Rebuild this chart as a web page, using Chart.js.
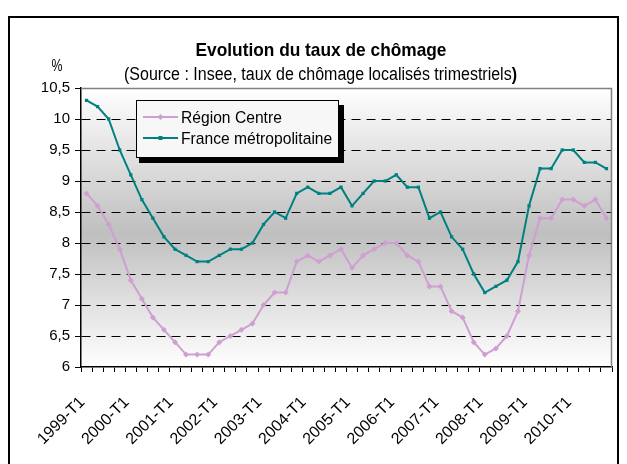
<!DOCTYPE html>
<html><head><meta charset="utf-8">
<script src="https://cdn.jsdelivr.net/npm/chart.js@4/dist/chart.umd.min.js"></script>
<style>html,body{margin:0;padding:0;background:#fff}canvas{display:block}</style>
</head><body>
<div style="width:627px;height:464px"><canvas id="c" width="627" height="464"></canvas></div>
<script>
const categories = [
 '1999-T1','1999-T2','1999-T3','1999-T4','2000-T1','2000-T2','2000-T3','2000-T4',
 '2001-T1','2001-T2','2001-T3','2001-T4','2002-T1','2002-T2','2002-T3','2002-T4',
 '2003-T1','2003-T2','2003-T3','2003-T4','2004-T1','2004-T2','2004-T3','2004-T4',
 '2005-T1','2005-T2','2005-T3','2005-T4','2006-T1','2006-T2','2006-T3','2006-T4',
 '2007-T1','2007-T2','2007-T3','2007-T4','2008-T1','2008-T2','2008-T3','2008-T4',
 '2009-T1','2009-T2','2009-T3','2009-T4','2010-T1','2010-T2','2010-T3','2010-T4'
];
const regionCentre = [
 8.8,8.6,8.3,7.9,7.4,7.1,6.8,6.6,6.4,6.2,6.2,6.2,6.4,6.5,6.6,6.7,
 7.0,7.2,7.2,7.7,7.8,7.7,7.8,7.9,7.6,7.8,7.9,8.0,8.0,7.8,7.7,7.3,
 7.3,6.9,6.8,6.4,6.2,6.3,6.5,6.9,7.8,8.4,8.4,8.7,8.7,8.6,8.7,8.4
];
const franceMetro = [
 10.3,10.2,10.0,9.5,9.1,8.7,8.4,8.1,7.9,7.8,7.7,7.7,7.8,7.9,7.9,8.0,
 8.3,8.5,8.4,8.8,8.9,8.8,8.8,8.9,8.6,8.8,9.0,9.0,9.1,8.9,8.9,8.4,
 8.5,8.1,7.9,7.5,7.2,7.3,7.4,7.7,8.6,9.2,9.2,9.5,9.5,9.3,9.3,9.2
];
const seriesNames = ['Région Centre', 'France métropolitaine'];
const seriesColors = ['#cf9fd2', '#008080'];
const yMin = 6, yMax = 10.5, yStep = 0.5;
const titleText = 'Evolution du taux de chômage';
const subtitleText = '(Source : Insee, taux de chômage localisés trimestriels';
const subtitleClose = ')';
const unitText = '%';
const FONT = '"Liberation Sans", Arial, sans-serif';

function drawScaledText(ctx, text, cx, baseline, font, targetW) {
  ctx.save();
  ctx.font = font;
  const w = ctx.measureText(text).width;
  const s = targetW / w;
  ctx.translate(cx, baseline);
  ctx.scale(s, 1);
  ctx.textAlign = 'center';
  ctx.textBaseline = 'alphabetic';
  ctx.fillText(text, 0, 0);
  ctx.restore();
}

const decor = {
  id: 'decor',
  beforeDraw(chart) {
    const ctx = chart.ctx, a = chart.chartArea;
    ctx.save();
    ctx.fillStyle = '#fff';
    ctx.fillRect(0, 0, chart.width, chart.height);
    const g = ctx.createLinearGradient(0, a.top, 0, a.bottom);
    g.addColorStop(0, '#ffffff');
    g.addColorStop(0.52, '#bfbfbf');
    g.addColorStop(1, '#ffffff');
    ctx.fillStyle = g;
    ctx.fillRect(a.left, a.top, a.right - a.left, a.bottom - a.top);
    ctx.restore();
  },
  afterDraw(chart) {
    const ctx = chart.ctx, a = chart.chartArea;
    ctx.save();
    ctx.strokeStyle = '#808080';
    ctx.lineWidth = 1.5;
    ctx.beginPath();
    ctx.moveTo(a.left, a.top + 0.5);
    ctx.lineTo(a.right - 0.5, a.top + 0.5);
    ctx.lineTo(a.right - 0.5, a.bottom);
    ctx.stroke();
    ctx.strokeStyle = '#000';
    ctx.lineWidth = 2;
    ctx.strokeRect(9, 17, 609, 460);
    ctx.fillStyle = '#000';
    drawScaledText(ctx, titleText, 321, 56, 'bold 19px ' + FONT, 251);
    ctx.font = '18px ' + FONT;
    const w1 = ctx.measureText(subtitleText).width;
    ctx.font = 'bold 18px ' + FONT;
    const w2 = ctx.measureText(subtitleClose).width;
    const s = 393 / (w1 + w2);
    ctx.save();
    ctx.translate(124, 80);
    ctx.scale(s, 1);
    ctx.textAlign = 'left';
    ctx.font = '18px ' + FONT;
    ctx.fillText(subtitleText, 0, 0);
    ctx.font = 'bold 18px ' + FONT;
    ctx.fillText(subtitleClose, w1, 0);
    ctx.restore();
    drawScaledText(ctx, unitText, 57, 71, '17px ' + FONT, 11);
    const lx = 136, ly = 100, lw = 202, lh = 57;
    ctx.fillStyle = '#000';
    ctx.fillRect(lx + 3, ly + 5, lw + 3, lh + 1);
    ctx.fillStyle = '#f7f7f7';
    ctx.fillRect(lx, ly, lw, lh);
    ctx.strokeStyle = '#000';
    ctx.lineWidth = 1;
    ctx.strokeRect(lx + 0.5, ly + 0.5, lw, lh);
    const rows = [117, 138];
    chart.data.datasets.forEach((ds, i) => {
      const y = rows[i];
      ctx.strokeStyle = ds.borderColor;
      ctx.lineWidth = 2;
      ctx.beginPath();
      ctx.moveTo(143, y);
      ctx.lineTo(178, y);
      ctx.stroke();
      ctx.fillStyle = ds.borderColor;
      if (i === 0) {
        ctx.beginPath();
        ctx.moveTo(160.5, y - 3); ctx.lineTo(163.5, y); ctx.lineTo(160.5, y + 3); ctx.lineTo(157.5, y);
        ctx.closePath(); ctx.fill();
      } else {
        ctx.fillRect(158.5, y - 2, 4, 4);
      }
      ctx.fillStyle = '#000';
      ctx.save();
      ctx.font = '17px ' + FONT;
      ctx.translate(181, y + 6);
      ctx.scale(0.92, 1);
      ctx.textAlign = 'left';
      ctx.fillText(ds.label, 0, 0);
      ctx.restore();
    });
    ctx.restore();
  }
};

new Chart(document.getElementById('c'), {
  type: 'line',
  data: {
    labels: categories,
    datasets: [
      { label: seriesNames[0], data: regionCentre, borderColor: seriesColors[0], backgroundColor: seriesColors[0],
        borderWidth: 2, pointStyle: 'rectRot', pointRadius: 3, pointBorderWidth: 0, tension: 0 },
      { label: seriesNames[1], data: franceMetro, borderColor: seriesColors[1], backgroundColor: seriesColors[1],
        borderWidth: 2, pointStyle: 'rect', pointRadius: 2.3, pointBorderWidth: 0, tension: 0 }
    ]
  },
  options: {
    responsive: false,
    devicePixelRatio: 1,
    animation: false,
    layout: { padding: { top: 88, right: 15, left: 0, bottom: 0 } },
    plugins: { legend: { display: false }, title: { display: false }, tooltip: { enabled: false } },
    scales: {
      x: {
        offset: true,
        grid: { drawOnChartArea: false, drawTicks: true, tickLength: 5, offset: true, color: '#000', tickColor: '#000' },
        border: { display: true, color: '#000', width: 1.5 },
        ticks: {
          autoSkip: false, minRotation: 45, maxRotation: 45, padding: 21, labelOffset: -4,
          color: '#000', font: { family: FONT, size: 16 },
          callback: function(v, i) { return i % 4 === 0 ? categories[i] : ''; }
        },
        afterFit(scale) { scale.height = 97; scale.paddingRight = 0; scale.paddingLeft = 0; }
      },
      y: {
        min: yMin, max: yMax,
        grid: {
          color: (c) => (c.tick && (c.tick.value === yMin || c.tick.value === yMax)) ? 'rgba(0,0,0,0)' : '#000',
          tickColor: '#000', tickLength: 6, lineWidth: 1, tickBorderDash: []
        },
        border: { display: true, color: '#000', width: 1.5, dash: [9, 6] },
        ticks: {
          stepSize: yStep, padding: 5, color: '#000', font: { family: FONT, size: 15 },
          callback: (v) => String(v).replace('.', ',')
        },
        afterFit(scale) { scale.width = 81; scale.paddingTop = 0; scale.paddingBottom = 0; }
      }
    }
  },
  plugins: [decor]
});
</script>
</body></html>
